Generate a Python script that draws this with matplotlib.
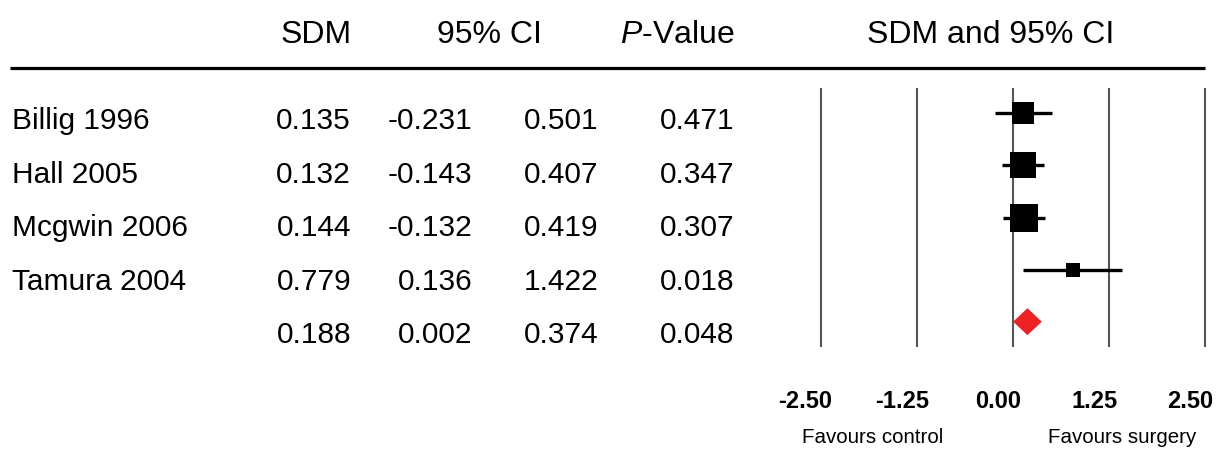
import matplotlib
matplotlib.use("Agg")
import matplotlib.pyplot as plt
from matplotlib.patches import Polygon
from matplotlib.transforms import ScaledTranslation

plt.rcParams['font.family'] = ['Liberation Sans', 'DejaVu Sans']
plt.rcParams['mathtext.fontset'] = 'custom'
plt.rcParams['mathtext.rm'] = 'Liberation Sans'
plt.rcParams['mathtext.it'] = 'Liberation Sans:italic'

# ---- data ----
studies = ["Billig 1996", "Hall 2005", "Mcgwin 2006", "Tamura 2004"]
sdm = [0.135, 0.132, 0.144, 0.779]
lower = [-0.231, -0.143, -0.132, 0.136]
upper = [0.501, 0.407, 0.419, 1.422]
pvals = [0.471, 0.347, 0.307, 0.018]
weights = [23.5, 32.8, 35.4, 8.3]  # relative weights (square area)
pooled_sdm = 0.188
pooled_lower = 0.002
pooled_upper = 0.374
pooled_p = 0.048
tick_values = [-2.50, -1.25, 0.00, 1.25, 2.50]
tick_labels = ["-2.50", "-1.25", "0.00", "1.25", "2.50"]
headers = ["SDM", "95% CI", r"$\mathit{P}$-Value", "SDM and 95% CI"]
favours = ["Favours control", "Favours surgery"]

W, H = 1231, 457
fig = plt.figure(figsize=(W / 100, H / 100), dpi=100)

# table axes in pixel coordinates
tab = fig.add_axes([0, 0, 1, 1])
tab.set_xlim(0, W)
tab.set_ylim(H, 0)
tab.axis('off')

hdr_fs = 23
body_fs = 21.5

# headers
tab.text(352, 43.3, headers[0], ha='right', va='baseline', fontsize=hdr_fs)
tab.text(489, 43.3, headers[1], ha='center', va='baseline', fontsize=hdr_fs)
tab.text(734, 43.3, headers[2], ha='right', va='baseline', fontsize=hdr_fs)
tab.text(991, 43.3, headers[3], ha='center', va='baseline', fontsize=hdr_fs)
tab.plot([10, 1205], [67.7, 67.7], color='black', lw=2.3, solid_capstyle='butt')

# table rows
rows = list(zip(studies, sdm, lower, upper, pvals)) + [("", pooled_sdm, pooled_lower, pooled_upper, pooled_p)]
for i, (name, s, lo, hi, p) in enumerate(rows):
    yb = 129.3 + 53.5 * i
    tab.text(12.5, yb, name, ha='left', va='baseline', fontsize=body_fs)
    tab.text(351, yb, f"{s:.3f}", ha='right', va='baseline', fontsize=body_fs)
    tab.text(472.5, yb, f"{lo:.3f}", ha='right', va='baseline', fontsize=body_fs)
    tab.text(598.5, yb, f"{hi:.3f}", ha='right', va='baseline', fontsize=body_fs)
    tab.text(734.5, yb, f"{p:.3f}", ha='right', va='baseline', fontsize=body_fs)

tab.text(873, 442.7, favours[0], ha='center', va='baseline', fontsize=14.8)
tab.text(1121.7, 442.7, favours[1], ha='center', va='baseline', fontsize=14.8)

# forest axes
px_per_unit = 76.96
x0_px = 1013
row0_px = 113.3
row_px = 52.1
left_px, right_px, top_px, bot_px = 800, 1231, 75, 360
ax = fig.add_axes([left_px / W, (H - bot_px) / H, (right_px - left_px) / W, (bot_px - top_px) / H])
ax.set_xlim((left_px - x0_px) / px_per_unit, (right_px - x0_px) / px_per_unit)
ax.set_ylim((bot_px - row0_px) / row_px, (top_px - row0_px) / row_px)
ax.axis('off')

n = len(studies)
ax.vlines(tick_values, -0.486, n + 0.486, colors='#555555', lw=1.5, zorder=1)

for i in range(n):
    ax.plot([lower[i], upper[i]], [i, i], color='black', lw=2.4, solid_capstyle='butt', zorder=2)
    side_px = 4.54 * weights[i] ** 0.5
    ax.plot(sdm[i], i, marker='s', markersize=side_px * 0.72, color='black',
            markeredgewidth=0, zorder=3)

hh = 13.5 / row_px
diamond = Polygon([(pooled_lower, n), (pooled_sdm, n - hh), (pooled_upper, n), (pooled_sdm, n + hh)],
                  closed=True, facecolor='#ee2226', edgecolor='none', zorder=3)
ax.add_patch(diamond)

off = ScaledTranslation(-15 / 100, 0, fig.dpi_scale_trans)
yb_tick = (407.7 - row0_px) / row_px
for v, lab in zip(tick_values, tick_labels):
    ax.text(v, yb_tick, lab, ha='center', va='baseline', fontsize=17, fontweight='bold',
            transform=ax.transData + off, clip_on=False)

fig.savefig("out.png", dpi=100)
